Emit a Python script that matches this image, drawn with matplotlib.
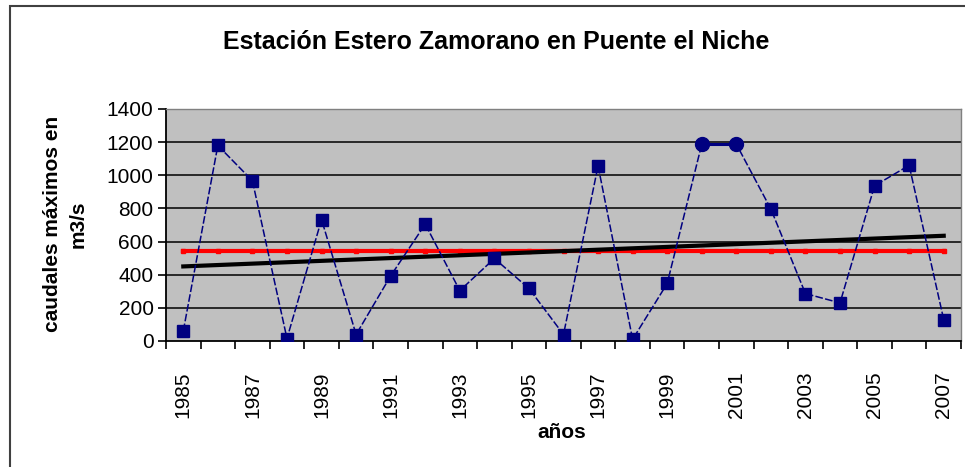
"""
Caudales máximos anuales — Estación Estero Zamorano en Puente el Niche (1985-2007).
Writes out.png
"""

import matplotlib

matplotlib.use("Agg")
import matplotlib.pyplot as plt
import numpy as np
from matplotlib.patches import Rectangle

plt.rcParams["font.family"] = ["Liberation Sans", "DejaVu Sans"]

YEARS = list(range(1985, 2008))
CAUDALES = [60, 1180, 967, 15, 733, 39, 393, 705, 304, 498, 317, 39,
            1057, 10, 347, 1188, 1188, 796, 286, 230, 937, 1060, 129]
# years drawn with round markers instead of squares
CIRCLE_YEARS = [2000, 2001]
MEAN_LEVEL = 541
TREND_START, TREND_END = 450, 635

NAVY = "#000080"


def main() -> None:
    fig = plt.figure(figsize=(9.65, 4.67), dpi=100)
    W, H = 965, 467
    ax = fig.add_axes([166 / W, 1 - 341 / H, (961 - 166) / W, (341 - 109) / H])

    x = np.arange(len(YEARS))
    y = np.array(CAUDALES, dtype=float)

    ax.set_facecolor("#c0c0c0")
    for v in range(200, 1400, 200):
        ax.axhline(v, color="black", lw=1.1, zorder=1)

    # mean and trend
    ax.plot(x, [MEAN_LEVEL] * len(x), color="#ff0000", lw=3, marker="s",
            markersize=3, zorder=3)
    ax.plot([x[0], x[-1]], [TREND_START, TREND_END], color="black", lw=3, zorder=3)

    # data series
    ax.plot(x, y, color=NAVY, lw=1.1, ls=(0, (5, 1.5)), zorder=4)
    sq = [i for i, yr in enumerate(YEARS) if yr not in CIRCLE_YEARS]
    ci = [i for i, yr in enumerate(YEARS) if yr in CIRCLE_YEARS]
    ax.plot(x[ci], y[ci], color=NAVY, lw=2.2, zorder=4)
    ax.plot(x[sq], y[sq], ls="none", marker="s", markersize=8.5, color=NAVY, zorder=5)
    ax.plot(x[ci], y[ci], ls="none", marker="o", markersize=10, color=NAVY, zorder=5)

    ax.set_xlim(-0.5, len(YEARS) - 0.5)
    ax.set_ylim(0, 1400)
    ax.set_yticks(range(0, 1401, 200))
    ax.tick_params(axis="y", labelsize=15, length=6, width=1.2, direction="out", pad=3)

    ax.set_xticks(np.arange(len(YEARS) + 1) - 0.5)
    ax.set_xticklabels([])
    ax.tick_params(axis="x", which="major", length=6, width=1.2, direction="out")
    ax.set_xticks(x[::2], minor=True)
    ax.set_xticklabels([str(yr) for yr in YEARS[::2]], minor=True, rotation=90,
                       fontsize=15)
    ax.tick_params(axis="x", which="minor", length=0, pad=22)

    for side in ("top", "right"):
        ax.spines[side].set_color("#808080")
        ax.spines[side].set_linewidth(1)
    for side in ("left", "bottom"):
        ax.spines[side].set_color("black")
        ax.spines[side].set_linewidth(1.3)

    fig.text(496 / W, 1 - 42 / H, "Estación Estero Zamorano en Puente el Niche",
             ha="center", va="center", fontsize=18, fontweight="bold")
    fig.text(65 / W, 1 - 224 / H, "caudales máximos en\nm3/s", rotation=90,
             ha="center", va="center", multialignment="center",
             fontsize=15, fontweight="bold", linespacing=1.45)
    fig.text(562 / W, 1 - 432 / H, "años", ha="center", va="center",
             fontsize=15, fontweight="bold")

    # chart frame (cut off at right and bottom like the source)
    fig.patches.append(Rectangle((10 / W, -0.1), 1.2, 1 - 6 / H + 0.1,
                                 transform=fig.transFigure, fill=False,
                                 edgecolor="#404040", lw=1.5))

    fig.savefig("out.png", dpi=100)
    plt.close(fig)


if __name__ == "__main__":
    main()
